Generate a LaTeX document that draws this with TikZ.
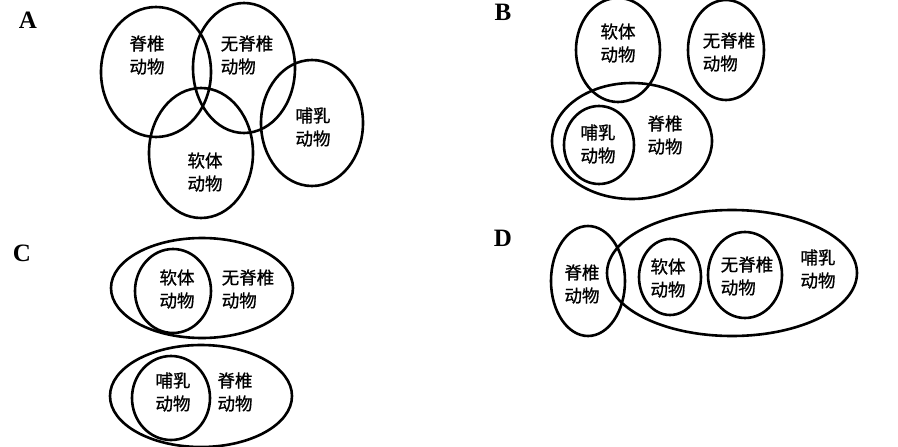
\documentclass[tikz,border=0pt]{standalone}
\usepackage{fontspec}
\newfontfamily\cjk{Noto Sans CJK SC}[FakeBold=0.9]
\newfontfamily\latinb{Liberation Serif}[BoldFont=* Bold]
\usetikzlibrary{positioning}

\begin{document}
\begin{tikzpicture}[x=1pt,y=-1pt]

\tikzstyle{ring}=[line width=2.6pt]
\tikzstyle{word}=[align=left, inner sep=0pt, font=\cjk\fontsize{17.5}{23}\selectfont]
\tikzstyle{tag}=[inner sep=0pt, font=\latinb\bfseries\fontsize{25}{25}\selectfont]

\useasboundingbox (0,0) rectangle (898,447);

% A
\node[tag] (tagA) at (28,20) {A};
\draw[ring] (156,72) ellipse [x radius=55, y radius=65];
\draw[ring] (244,68) ellipse [x radius=51, y radius=65];
\draw[ring] (312,123) ellipse [x radius=51, y radius=63];
\draw[ring] (201,153) ellipse [x radius=52, y radius=65];
\node[word] (a1) at (147,55) {脊椎\\动物};
\node[word] (a2) at (247,55) {无脊椎\\动物};
\node[word] (a3) at (313,127) {哺乳\\动物};
\node[word] (a4) at (205,172) {软体\\动物};

% B
\node[tag] (tagB) at (503,12) {B};
\draw[ring] (618,50) ellipse [x radius=42, y radius=52];
\draw[ring] (726,50) ellipse [x radius=38, y radius=50];
\draw[ring] (632,141) ellipse [x radius=80, y radius=58];
\draw[ring] (599,145) ellipse [x radius=35, y radius=39];
\node[word] (b1) at (618,43) {软体\\动物};
\node[word] (b2) at (729,52) {无脊椎\\动物};
\node[word] (b3) at (598,144) {哺乳\\动物};
\node[word] (b4) at (665,135) {脊椎\\动物};

% C
\node[tag] (tagC) at (22,253) {C};
\draw[ring] (202,288) ellipse [x radius=91, y radius=50];
\draw[ring] (173,291) ellipse [x radius=38, y radius=42];
\draw[ring] (201,396) ellipse [x radius=91, y radius=51];
\draw[ring] (171,398) ellipse [x radius=39, y radius=42];
\node[word] (c1) at (177,289) {软体\\动物};
\node[word] (c2) at (248,289) {无脊椎\\动物};
\node[word] (c3) at (173,392) {哺乳\\动物};
\node[word] (c4) at (235,392) {脊椎\\动物};

% D
\node[tag] (tagD) at (503,238) {D};
\draw[ring] (588,281) ellipse [x radius=37, y radius=55];
\draw[ring] (732,273) ellipse [x radius=125, y radius=63];
\draw[ring] (670,277) ellipse [x radius=31, y radius=38];
\draw[ring] (745,275) ellipse [x radius=37, y radius=43];
\node[word] (d1) at (582,284) {脊椎\\动物};
\node[word] (d2) at (668,278) {软体\\动物};
\node[word] (d3) at (747,276) {无脊椎\\动物};
\node[word] (d4) at (818,269) {哺乳\\动物};

\end{tikzpicture}
\end{document}
